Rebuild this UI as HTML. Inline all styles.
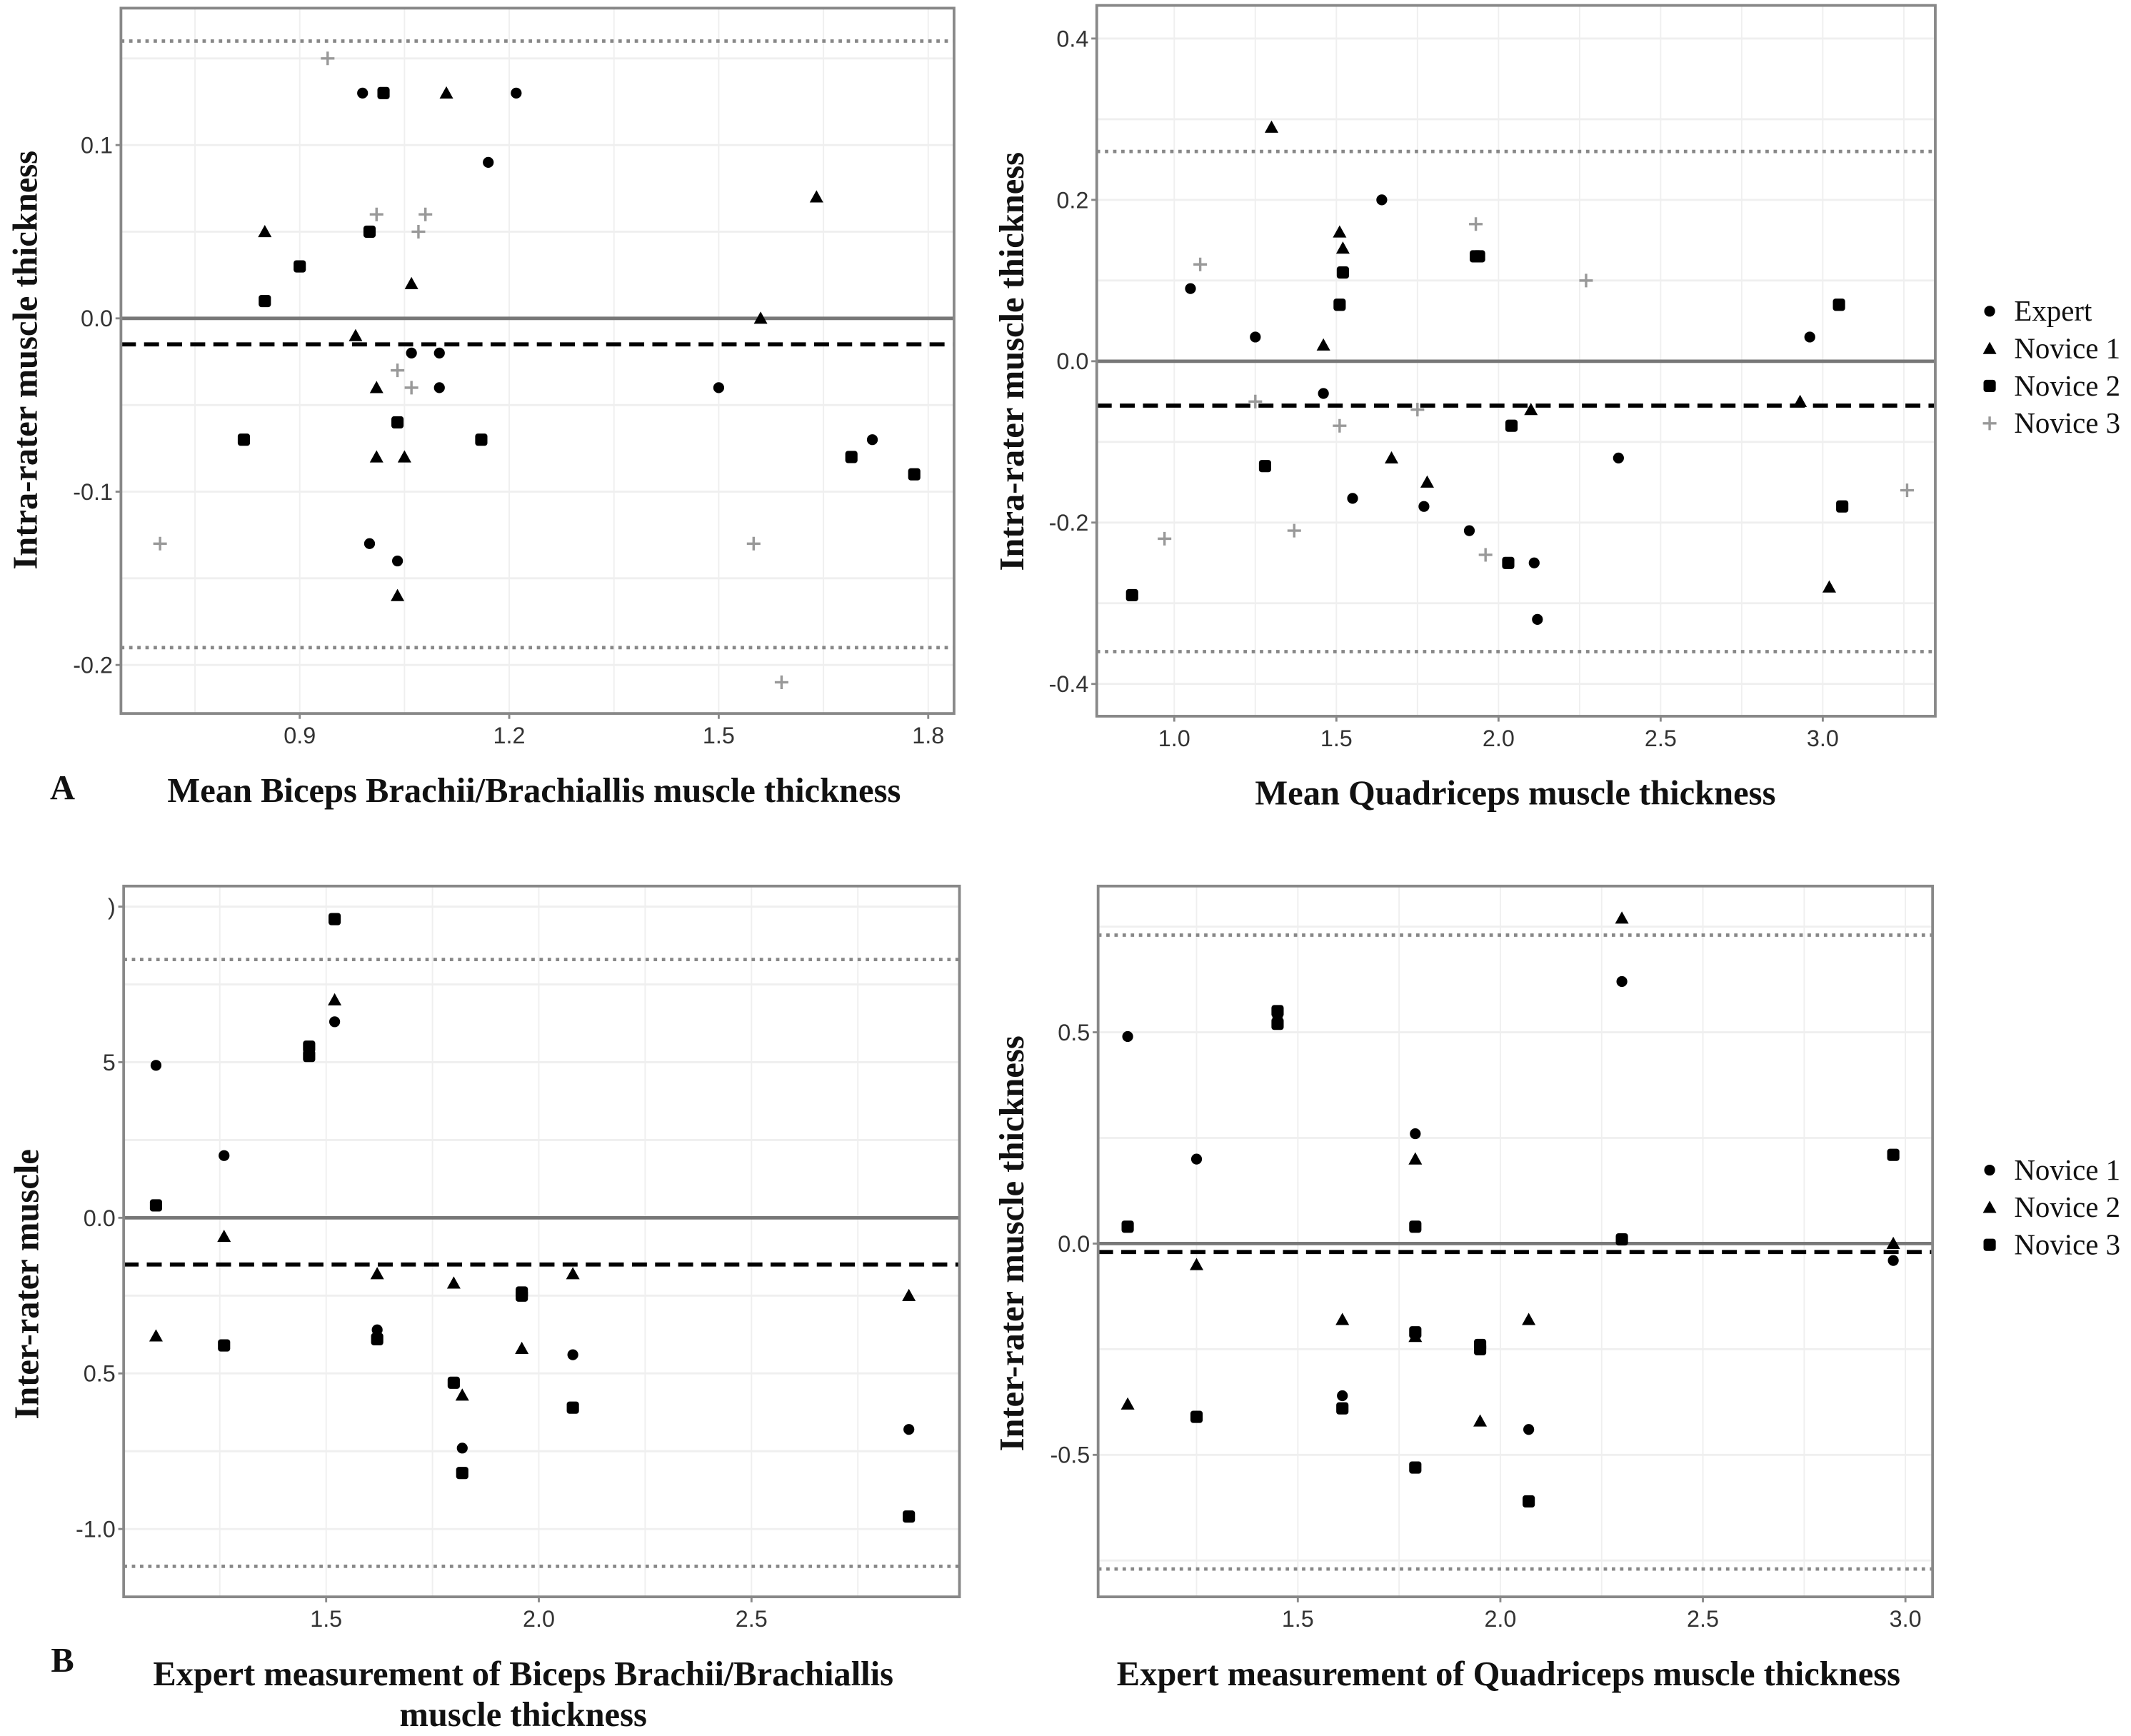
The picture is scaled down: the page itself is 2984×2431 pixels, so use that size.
<!DOCTYPE html>
<html><head><meta charset="utf-8"><style>
html,body{margin:0;padding:0;background:#fff;}
svg{display:block;}
.tick{font-family:"Liberation Sans",sans-serif;font-size:17px;fill:#333;}
.ttl{font-family:"Liberation Serif",serif;font-weight:bold;font-size:25.5px;fill:#111;}
.leg{font-family:"Liberation Serif",serif;font-size:21.5px;fill:#111;}
</style></head><body>
<svg id="fig" width="2984" height="2431" viewBox="0 0 1568 1277.4" preserveAspectRatio="none" xmlns="http://www.w3.org/2000/svg"></svg>
<script>
// ---- Panel A-left: Biceps intra-rater ----
const aL_expert_x=[0.99,1.21,1.17,1.00,1.06,1.10,1.10,1.50,1.72,1.00,1.04];
const aL_expert_y=[0.13,0.13,0.09,0.05,-0.02,-0.02,-0.04,-0.04,-0.07,-0.13,-0.14];
const aL_n1_x=[0.85,1.11,1.64,1.06,0.98,1.56,1.01,1.01,1.05,1.04];
const aL_n1_y=[0.05,0.13,0.07,0.02,-0.01,0.00,-0.04,-0.08,-0.08,-0.16];
const aL_n2_x=[1.02,0.90,0.85,0.82,1.04,1.16,1.69,1.78,1.00];
const aL_n2_y=[0.13,0.03,0.01,-0.07,-0.06,-0.07,-0.08,-0.09,0.05];
const aL_n3_x=[0.94,1.01,1.08,1.07,1.04,1.06,0.70,1.55,1.59];
const aL_n3_y=[0.15,0.06,0.06,0.05,-0.03,-0.04,-0.13,-0.13,-0.21];
const aL_xticks=[0.9,1.2,1.5,1.8];
const aL_xlabels=["0.9","1.2","1.5","1.8"];
const aL_yticks=[0.1,0.0,-0.1,-0.2];
const aL_ylabels=["0.1","0.0","-0.1","-0.2"];
const aL_lines=[-0.015,0.16,-0.19];
// ---- Panel A-right: Quadriceps intra-rater ----
const aR_expert_x=[1.05,1.25,1.64,1.46,1.55,1.77,1.91,2.11,2.12,2.37,2.96];
const aR_expert_y=[0.09,0.03,0.20,-0.04,-0.17,-0.18,-0.21,-0.25,-0.32,-0.12,0.03];
const aR_n1_x=[1.30,1.51,1.52,1.46,1.67,1.78,2.10,2.93,3.02];
const aR_n1_y=[0.29,0.16,0.14,0.02,-0.12,-0.15,-0.06,-0.05,-0.28];
const aR_n2_x=[1.52,1.51,1.93,1.94,1.28,0.87,2.03,2.04,3.05,3.06];
const aR_n2_y=[0.11,0.07,0.13,0.13,-0.13,-0.29,-0.25,-0.08,0.07,-0.18];
const aR_n3_x=[1.08,1.93,2.27,1.25,1.51,1.75,1.37,0.97,1.96,3.26];
const aR_n3_y=[0.12,0.17,0.10,-0.05,-0.08,-0.06,-0.21,-0.22,-0.24,-0.16];
const aR_xticks=[1.0,1.5,2.0,2.5,3.0];
const aR_xlabels=["1.0","1.5","2.0","2.5","3.0"];
const aR_yticks=[0.4,0.2,0.0,-0.2,-0.4];
const aR_ylabels=["0.4","0.2","0.0","-0.2","-0.4"];
const aR_lines=[-0.055,0.26,-0.36];
// ---- Panel B-left: Biceps inter-rater ----
const bL_n1_x=[1.10,1.26,1.46,1.52,1.62,1.82,2.08,2.87];
const bL_n1_y=[0.49,0.20,0.53,0.63,-0.36,-0.74,-0.44,-0.68];
const bL_n2_x=[1.10,1.26,1.52,1.62,1.80,1.82,1.96,2.08,2.87];
const bL_n2_y=[-0.38,-0.06,0.70,-0.18,-0.21,-0.57,-0.42,-0.18,-0.25];
const bL_n3_x=[1.10,1.26,1.46,1.46,1.52,1.62,1.80,1.82,1.96,1.96,2.08,2.87];
const bL_n3_y=[0.04,-0.41,0.55,0.52,0.96,-0.39,-0.53,-0.82,-0.24,-0.25,-0.61,-0.96];
const bL_xticks=[1.5,2.0,2.5];
const bL_xlabels=["1.5","2.0","2.5"];
const bL_yticks=[1.0,0.5,0.0,-0.5,-1.0];
const bL_ylabels=[")","5","0.0","0.5","-1.0"];
const bL_lines=[-0.15,0.83,-1.12];
// ---- Panel B-right: Quadriceps inter-rater ----
const bR_n1_x=[1.08,1.25,1.45,1.61,1.79,2.07,2.30,2.97];
const bR_n1_y=[0.49,0.20,0.54,-0.36,0.26,-0.44,0.62,-0.04];
const bR_n2_x=[1.08,1.25,1.61,1.79,1.79,1.95,2.07,2.30,2.97];
const bR_n2_y=[-0.38,-0.05,-0.18,0.20,-0.22,-0.42,-0.18,0.77,0.00];
const bR_n3_x=[1.08,1.25,1.45,1.45,1.61,1.79,1.79,1.79,1.95,1.95,2.07,2.30,2.97];
const bR_n3_y=[0.04,-0.41,0.55,0.52,-0.39,0.04,-0.21,-0.53,-0.24,-0.25,-0.61,0.01,0.21];
const bR_xticks=[1.5,2.0,2.5,3.0];
const bR_xlabels=["1.5","2.0","2.5","3.0"];
const bR_yticks=[0.5,0.0,-0.5];
const bR_ylabels=["0.5","0.0","-0.5"];
const bR_lines=[-0.02,0.73,-0.77];

const NS="http://www.w3.org/2000/svg";
const svg=document.getElementById('fig');
function mk(tag,attrs,parent){const e=document.createElementNS(NS,tag);for(const k in attrs)e.setAttribute(k,attrs[k]);(parent||svg).appendChild(e);return e;}

function panel(name,box,xd,yd,xt,xl,yt,yl,lines,series){
  const g=mk('g',{});
  
  
  const sx=v=>box.l+(v-xd[0])/(xd[1]-xd[0])*(box.r-box.l);
  const sy=v=>box.b-(v-yd[0])/(yd[1]-yd[0])*(box.b-box.t);
  const dx=xt[1]-xt[0], dy=yt[0]-yt[1];
  for(let v=xt[0]-dx/2; v<=xd[1]; v+=dx/2){ if(v<xd[0])continue;
    const ln=mk('line',{x1:sx(v),x2:sx(v),y1:box.t,y2:box.b,stroke:'#efefef','stroke-width':1},g);
    }
  for(let v=yt[yt.length-1]-dy/2; v<=yd[1]; v+=dy/2){ if(v<yd[0])continue;
    const ln=mk('line',{x1:box.l,x2:box.r,y1:sy(v),y2:sy(v),stroke:'#efefef','stroke-width':1.5},g);
    }
  const z=mk('line',{x1:box.l,x2:box.r,y1:sy(0),y2:sy(0),stroke:'#777','stroke-width':2.5},g);
  
  const bl=mk('line',{x1:box.l,x2:box.r,y1:sy(lines[0]),y2:sy(lines[0]),stroke:'#000','stroke-width':3,'stroke-dasharray':'11 6'},g);
  
  for(let i=1;i<3;i++){const d=mk('line',{x1:box.l,x2:box.r,y1:sy(lines[i]),y2:sy(lines[i]),stroke:'#888','stroke-width':2.5,'stroke-dasharray':'2.5 3.5'},g);
    }
  const fr=mk('rect',{x:box.l,y:box.t,width:box.r-box.l,height:box.b-box.t,fill:'none',stroke:'#888','stroke-width':2},g);
  
  xt.forEach((v,i)=>{const t=mk('line',{x1:sx(v),x2:sx(v),y1:box.b,y2:box.b+4,stroke:'#888','stroke-width':1.5},g);
    
    const tx=mk('text',{x:sx(v),y:box.b+22,'text-anchor':'middle',class:'tick'},g);tx.textContent=xl[i];
    });
  yt.forEach((v,i)=>{const t=mk('line',{x1:box.l-4,x2:box.l,y1:sy(v),y2:sy(v),stroke:'#888','stroke-width':1.5},g);
    
    const tx=mk('text',{x:box.l-6,y:sy(v)+6,'text-anchor':'end',class:'tick'},g);tx.textContent=yl[i];
    });
  series.forEach(s=>{s.x.forEach((xv,i)=>{
    const m=marker(s.shape,sx(xv),sy(s.y[i]),g);
    
    
  });});
}
function marker(shape,x,y,g){
  if(shape==='circle')return mk('circle',{cx:x,cy:y,r:4,fill:'#000'},g);
  if(shape==='triangle')return mk('path',{d:`M${x},${y-5}L${x+5},${y+4}L${x-5},${y+4}Z`,fill:'#000'},g);
  if(shape==='square')return mk('rect',{x:x-4.5,y:y-4.5,width:9,height:9,rx:2,fill:'#000'},g);
  return mk('path',{d:`M${x-5},${y}H${x+5}M${x},${y-5}V${y+5}`,stroke:'#999','stroke-width':1.8},g);
}
function legend(name,x,y0,items){
  const g=mk('g',{});
  
  
  items.forEach((it,i)=>{const y=y0+i*27.5;
    const m=marker(it[1],x,y,g);
    
    const t=mk('text',{x:x+18,y:y+7,class:'leg'},g);t.textContent=it[0];
    });
}
function text(name,str,x,y,cls,anchor,rot,size){
  const t=mk('text',{x:x,y:y,class:cls,'text-anchor':anchor||'middle'});
  if(rot)t.setAttribute('transform',`rotate(-90 ${x} ${y})`);
  if(size)t.setAttribute('font-size',size);
  t.textContent=str;
  
  
}

panel('panel-a-biceps',{l:89,r:702,t:6,b:525},[0.644,1.837],[-0.228,0.179],aL_xticks,aL_xlabels,aL_yticks,aL_ylabels,aL_lines,
 [{name:'expert',shape:'circle',x:aL_expert_x,y:aL_expert_y},{name:'novice1',shape:'triangle',x:aL_n1_x,y:aL_n1_y},
  {name:'novice2',shape:'square',x:aL_n2_x,y:aL_n2_y},{name:'novice3',shape:'plus',x:aL_n3_x,y:aL_n3_y}]);
panel('panel-a-quadriceps',{l:807,r:1424,t:4,b:527},[0.761,3.347],[-0.44,0.441],aR_xticks,aR_xlabels,aR_yticks,aR_ylabels,aR_lines,
 [{name:'expert',shape:'circle',x:aR_expert_x,y:aR_expert_y},{name:'novice1',shape:'triangle',x:aR_n1_x,y:aR_n1_y},
  {name:'novice2',shape:'square',x:aR_n2_x,y:aR_n2_y},{name:'novice3',shape:'plus',x:aR_n3_x,y:aR_n3_y}]);
panel('panel-b-biceps',{l:91,r:706,t:652,b:1175},[1.024,2.989],[-1.218,1.066],bL_xticks,bL_xlabels,bL_yticks,bL_ylabels,bL_lines,
 [{name:'novice1',shape:'circle',x:bL_n1_x,y:bL_n1_y},{name:'novice2',shape:'triangle',x:bL_n2_x,y:bL_n2_y},
  {name:'novice3',shape:'square',x:bL_n3_x,y:bL_n3_y}]);
panel('panel-b-quadriceps',{l:808,r:1422,t:652,b:1175},[1.007,3.067],[-0.836,0.846],bR_xticks,bR_xlabels,bR_yticks,bR_ylabels,bR_lines,
 [{name:'novice1',shape:'circle',x:bR_n1_x,y:bR_n1_y},{name:'novice2',shape:'triangle',x:bR_n2_x,y:bR_n2_y},
  {name:'novice3',shape:'square',x:bR_n3_x,y:bR_n3_y}]);

legend('legend-a',1464,229,[['Expert','circle'],['Novice 1','triangle'],['Novice 2','square'],['Novice 3','plus']]);
legend('legend-b',1464,861,[['Novice 1','circle'],['Novice 2','triangle'],['Novice 3','square']]);

text('y-axis-title-a-left','Intra-rater muscle thickness',27,265,'ttl','middle',true);
text('y-axis-title-a-right','Intra-rater muscle thickness',753,266,'ttl','middle',true);
text('y-axis-title-b-left','Inter-rater muscle',28,945,'ttl','middle',true);
text('y-axis-title-b-right','Inter-rater muscle thickness',753,915,'ttl','middle',true);
text('x-axis-title-a-left','Mean Biceps Brachii/Brachiallis muscle thickness',393,590,'ttl');
text('x-axis-title-a-right','Mean Quadriceps muscle thickness',1115,592,'ttl');
text('x-axis-title-b-left-line1','Expert measurement of Biceps Brachii/Brachiallis',385,1240,'ttl');
text('x-axis-title-b-left-line2','muscle thickness',385,1270,'ttl');
text('x-axis-title-b-right','Expert measurement of Quadriceps muscle thickness',1110,1240,'ttl');
text('panel-label-a','A',46,588,'ttl','middle',false,28);
text('panel-label-b','B',46,1230,'ttl','middle',false,28);
</script>
</body></html>
